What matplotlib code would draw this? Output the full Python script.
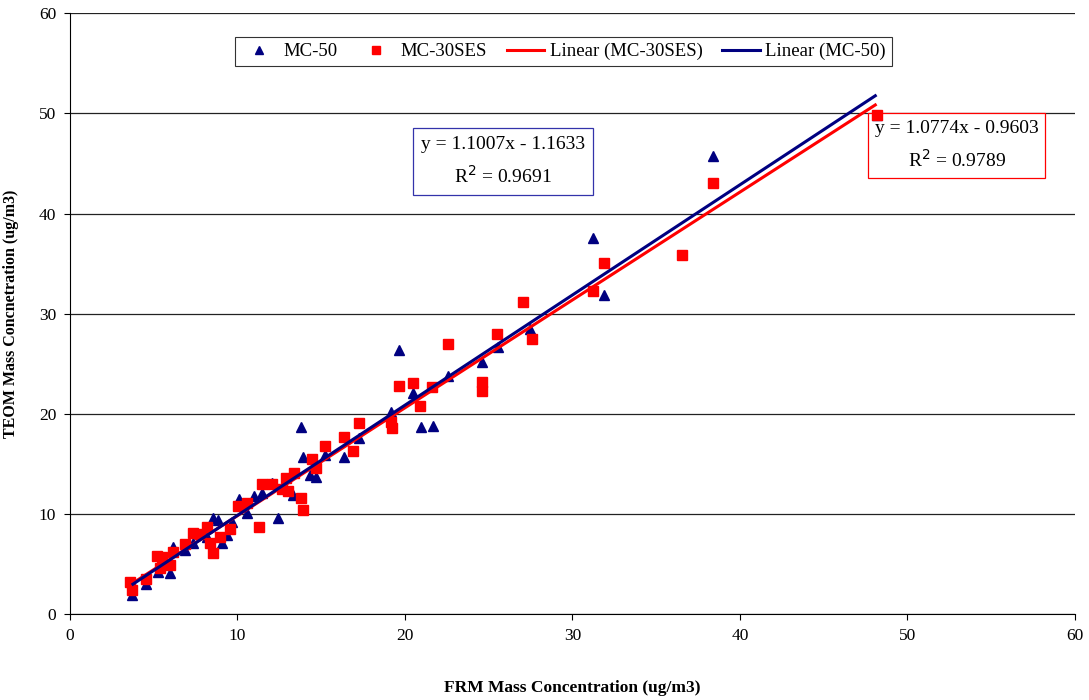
import matplotlib.pyplot as plt
from matplotlib.lines import Line2D

plt.rcParams['font.family'] = ['Liberation Serif', 'DejaVu Serif']

# MC-50 (triangles)
mc50_x = [3.68, 4.52, 5.25, 5.97, 6.17, 6.87, 7.36, 8.16, 8.56, 8.85, 9.06, 9.36, 9.65,
          10.11, 10.55, 10.99, 11.44, 12.04, 12.44, 13.33, 13.77, 13.89, 14.33, 14.69,
          15.22, 16.38, 17.27, 19.15, 19.66, 20.50, 20.94, 21.65, 22.59, 24.58, 25.57,
          27.49, 31.24, 31.88, 38.41, 48.16]
mc50_y = [1.90, 2.96, 4.19, 4.06, 6.72, 6.39, 7.12, 7.72, 9.55, 9.38, 7.06, 7.89, 9.21,
          11.45, 10.05, 11.78, 12.11, 13.05, 9.55, 11.88, 18.64, 15.64, 13.88, 13.65,
          15.87, 15.64, 17.54, 20.20, 26.36, 22.09, 18.70, 18.82, 23.81, 25.16, 26.69,
          28.42, 37.51, 31.85, 45.72, 49.80]

# MC-30SES (squares)
mc30_x = [3.58, 3.68, 4.52, 5.18, 5.47, 5.37, 5.97, 6.15, 6.87, 7.36, 7.76, 8.16, 8.36,
          8.56, 8.96, 9.55, 10.05, 10.55, 11.30, 11.44, 12.04, 12.64, 12.90, 13.03, 13.37,
          13.77, 13.89, 14.43, 14.69, 15.22, 16.38, 16.88, 17.27, 19.15, 19.21, 19.66,
          20.50, 20.90, 21.64, 22.59, 24.58, 24.61, 25.51, 27.06, 27.56, 31.24, 31.88,
          36.56, 38.41, 48.16]
mc30_y = [3.22, 2.40, 3.46, 5.79, 5.72, 4.56, 4.89, 6.22, 6.99, 8.06, 7.99, 8.64, 7.06,
          6.12, 7.66, 8.49, 10.73, 11.03, 8.69, 12.93, 12.93, 12.45, 13.55, 12.28, 14.05,
          11.55, 10.38, 15.44, 14.55, 16.77, 17.70, 16.30, 19.12, 19.20, 18.57, 22.79,
          23.03, 20.76, 22.71, 26.95, 23.16, 22.26, 27.95, 31.15, 27.42, 32.28, 35.07,
          35.84, 43.06, 49.82]

# trendline coefficients (slope, intercept, R2)
fit_mc50 = [1.1007, -1.1633, 0.9691]
fit_mc30 = [1.0774, -0.9603, 0.9789]

navy = '#000080'
red = '#FF0000'

fig = plt.figure(figsize=(10.89, 7.0), dpi=100)
ax = fig.add_axes([0.0643, 0.123, 0.9227, 0.858])

ax.plot(mc50_x, mc50_y, linestyle='none', marker='^', color=navy, markersize=6.5, zorder=3)
ax.plot(mc30_x, mc30_y, linestyle='none', marker='s', color=red, markersize=6.5, zorder=4)

x0 = min(mc30_x)
x1 = max(mc30_x)
ax.plot([x0, x1], [fit_mc30[0] * x0 + fit_mc30[1], fit_mc30[0] * x1 + fit_mc30[1]],
        color=red, lw=2.2, zorder=5, solid_capstyle='butt')
x0 = min(mc50_x)
x1 = max(mc50_x)
ax.plot([x0, x1], [fit_mc50[0] * x0 + fit_mc50[1], fit_mc50[0] * x1 + fit_mc50[1]],
        color=navy, lw=2.2, zorder=6, solid_capstyle='butt')

ax.set_xlim(0, 60)
ax.set_ylim(0, 60)
ax.set_xticks(range(0, 61, 10))
ax.set_yticks(range(0, 61, 10))
ax.tick_params(labelsize=12.5, direction='out', length=4, width=0.8, pad=6)
for s in ['top', 'right']:
    ax.spines[s].set_visible(False)
ax.spines['left'].set_linewidth(0.8)
ax.spines['bottom'].set_linewidth(0.8)
ax.yaxis.grid(True, color='#222222', lw=0.9)
ax.set_axisbelow(True)

ax.set_xlabel('FRM Mass Concentration (ug/m3)', fontsize=12.5, fontweight='bold', labelpad=26)
ax.set_ylabel('TEOM Mass Concnetration (ug/m3)', fontsize=11.5, fontweight='bold', labelpad=14)

handles = [
    Line2D([], [], linestyle='none', marker='^', color=navy, markersize=6),
    Line2D([], [], linestyle='none', marker='s', color=red, markersize=6),
    Line2D([], [], color=red, lw=2.2),
    Line2D([], [], color=navy, lw=2.2),
]
labels = ['MC-50', 'MC-30SES', 'Linear (MC-30SES)', 'Linear (MC-50)']
leg = ax.legend(handles, labels, loc='upper left', bbox_to_anchor=(0.164, 0.96), ncol=4,
                fontsize=13.5, frameon=True, fancybox=False, handlelength=2.0,
                columnspacing=1.05, handletextpad=0.3, borderpad=0.3, borderaxespad=0)
leg.get_frame().set_edgecolor('black')
leg.get_frame().set_linewidth(0.8)

ax.text(25.85, 45.2, 'y = %.4fx - %.4f\nR$^2$ = %.4f' % (fit_mc50[0], -fit_mc50[1], fit_mc50[2]),
        ha='center', va='center', fontsize=14, linespacing=1.7, zorder=7,
        bbox=dict(boxstyle='square,pad=0.4', fc='white', ec='#3333aa', lw=0.9))
ax.text(52.95, 46.8, 'y = %.4fx - %.4f\nR$^2$ = %.4f' % (fit_mc30[0], -fit_mc30[1], fit_mc30[2]),
        ha='center', va='center', fontsize=14, linespacing=1.7, zorder=2,
        bbox=dict(boxstyle='square,pad=0.35', fc='white', ec=red, lw=0.9))

fig.savefig('out.png', dpi=100)
